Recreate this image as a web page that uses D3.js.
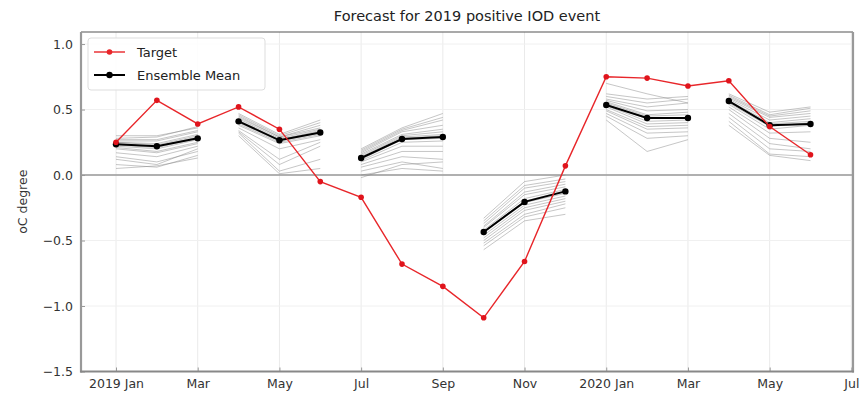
<!DOCTYPE html>
<html>
<head>
<meta charset="utf-8">
<script src="https://cdn.jsdelivr.net/npm/d3@7"></script>
<style>
  html, body { margin: 0; padding: 0; background: #fff; }
  svg { display: block; font-family: "DejaVu Sans", sans-serif; }
</style>
</head>
<body>
<svg id="chart" width="867" height="393"></svg>
<script>
// Months counted from January 2019 (0) to July 2020 (18)
const tickMonths = [0, 2, 4, 6, 8, 10, 12, 14, 16, 18];
const tickLabels = ["2019 Jan", "Mar", "May", "Jul", "Sep", "Nov", "2020 Jan", "Mar", "May", "Jul"];
const yTicks = [-1.5, -1.0, -0.5, 0.0, 0.5, 1.0];

// Observed IOD index, Jan 2019 .. Jun 2020
const targetMonths = [0, 1, 2, 3, 4, 5, 6, 7, 8, 9, 10, 11, 12, 13, 14, 15, 16, 17];
const targetValues = [0.25, 0.57, 0.39, 0.52, 0.35, -0.05, -0.17, -0.68, -0.85, -1.09, -0.66, 0.07,
                      0.75, 0.74, 0.68, 0.72, 0.37, 0.155];

// Start month of each 3-month forecast
const forecastStarts = [0, 3, 6, 9, 12, 15];

// Ensemble mean for each forecast (3 lead months)
const ensembleMean = [
  [0.235, 0.22, 0.28],
  [0.41, 0.265, 0.325],
  [0.13, 0.275, 0.29],
  [-0.435, -0.205, -0.125],
  [0.535, 0.435, 0.435],
  [0.565, 0.38, 0.39]
];

// Individual ensemble members for each forecast
const members = [
  [[0.30,0.30,0.36],[0.28,0.29,0.37],[0.27,0.27,0.34],[0.26,0.26,0.33],[0.25,0.24,0.31],[0.25,0.23,0.30],
   [0.24,0.22,0.29],[0.23,0.21,0.28],[0.22,0.20,0.27],[0.21,0.18,0.25],[0.20,0.17,0.24],[0.17,0.14,0.22],
   [0.14,0.10,0.18],[0.12,0.08,0.20],[0.08,0.06,0.15],[0.05,0.07,0.13]],
  [[0.47,0.31,0.42],[0.46,0.30,0.40],[0.45,0.29,0.38],[0.44,0.29,0.36],[0.43,0.28,0.35],[0.42,0.27,0.34],
   [0.41,0.27,0.33],[0.40,0.26,0.32],[0.39,0.25,0.31],[0.38,0.24,0.30],[0.36,0.20,0.27],[0.34,0.12,0.25],
   [0.33,0.08,0.22],[0.32,0.03,0.12],[0.30,0.01,0.05]],
  [[0.20,0.36,0.47],[0.19,0.35,0.44],[0.18,0.34,0.42],[0.17,0.33,0.38],[0.16,0.31,0.35],[0.15,0.30,0.33],
   [0.14,0.29,0.31],[0.13,0.28,0.30],[0.12,0.27,0.28],[0.11,0.25,0.26],[0.10,0.22,0.22],[0.08,0.18,0.18],
   [0.06,0.14,0.12],[0.03,0.10,0.05],[0.00,0.05,0.03],[-0.02,0.08,0.10]],
  [[-0.33,-0.05,0.00],[-0.35,-0.08,-0.03],[-0.37,-0.10,-0.05],[-0.39,-0.13,-0.07],[-0.40,-0.15,-0.09],
   [-0.42,-0.18,-0.11],[-0.43,-0.20,-0.12],[-0.44,-0.21,-0.14],[-0.46,-0.23,-0.16],[-0.48,-0.25,-0.18],
   [-0.50,-0.27,-0.20],[-0.52,-0.30,-0.22],[-0.54,-0.32,-0.25],[-0.57,-0.35,-0.30]],
  [[0.70,0.62,0.55],[0.62,0.58,0.60],[0.60,0.55,0.58],[0.58,0.52,0.55],[0.57,0.49,0.50],[0.56,0.46,0.48],
   [0.55,0.45,0.46],[0.54,0.43,0.44],[0.53,0.41,0.42],[0.52,0.39,0.40],[0.50,0.37,0.38],[0.49,0.35,0.36],
   [0.47,0.32,0.33],[0.45,0.28,0.30],[0.42,0.18,0.27]],
  [[0.62,0.48,0.52],[0.61,0.46,0.51],[0.60,0.45,0.49],[0.59,0.44,0.47],[0.58,0.42,0.45],[0.57,0.40,0.43],
   [0.56,0.39,0.41],[0.55,0.37,0.40],[0.54,0.35,0.38],[0.52,0.32,0.33],[0.50,0.28,0.25],[0.47,0.24,0.20],
   [0.44,0.20,0.18],[0.41,0.16,0.14],[0.38,0.15,0.11]]
];

const svg = d3.select("#chart");
const plotLeft = 81, plotRight = 853, plotTop = 32, plotBottom = 371.5;

const x = d3.scaleLinear().domain([-0.857, 18.04]).range([plotLeft, plotRight]);
const y = d3.scaleLinear().domain([-1.5, 1.092]).range([plotBottom, plotTop]);

// grid
const grid = svg.append("g");
grid.selectAll("line.gx").data(tickMonths).join("line")
  .attr("x1", d => x(d)).attr("x2", d => x(d)).attr("y1", plotTop).attr("y2", plotBottom)
  .attr("stroke", "#eaeaea").attr("stroke-width", 1);
grid.selectAll("line.gy").data(yTicks).join("line")
  .attr("x1", plotLeft).attr("x2", plotRight).attr("y1", d => y(d)).attr("y2", d => y(d))
  .attr("stroke", "#f0f0f0").attr("stroke-width", 1);

// zero line
svg.append("line")
  .attr("x1", plotLeft).attr("x2", plotRight).attr("y1", y(0)).attr("y2", y(0))
  .attr("stroke", "#999").attr("stroke-width", 1.5);

// ensemble members
const line = d3.line().x(d => x(d[0])).y(d => y(d[1]));
const memberG = svg.append("g");
forecastStarts.forEach((s, i) => {
  members[i].forEach(m => {
    memberG.append("path")
      .attr("d", line(m.map((v, k) => [s + k, v])))
      .attr("fill", "none").attr("stroke", "#808080")
      .attr("stroke-opacity", 0.45).attr("stroke-width", 1);
  });
});

// ensemble means
const meanG = svg.append("g");
forecastStarts.forEach((s, i) => {
  const pts = ensembleMean[i].map((v, k) => [s + k, v]);
  meanG.append("path").attr("d", line(pts))
    .attr("fill", "none").attr("stroke", "#000").attr("stroke-width", 2);
  meanG.append("g").selectAll("circle").data(pts).join("circle")
    .attr("cx", d => x(d[0])).attr("cy", d => y(d[1])).attr("r", 3.2).attr("fill", "#000");
});

// target
const tPts = targetMonths.map((m, i) => [m, targetValues[i]]);
svg.append("path").attr("d", line(tPts))
  .attr("fill", "none").attr("stroke", "#e8262a").attr("stroke-width", 1.4);
svg.append("g").selectAll("circle").data(tPts).join("circle")
  .attr("cx", d => x(d[0])).attr("cy", d => y(d[1])).attr("r", 2.8).attr("fill", "#e0141c");

// axes
const xAxis = d3.axisBottom(x).tickValues(tickMonths)
  .tickFormat((d, i) => tickLabels[i]).tickSizeInner(-4).tickSizeOuter(0).tickPadding(8);
const gx = svg.append("g").attr("transform", `translate(0,${plotBottom})`).call(xAxis);
gx.select(".domain").remove();
gx.selectAll("line").attr("stroke", "#999");
gx.selectAll("text").attr("font-size", 12.5).attr("fill", "#333").attr("font-family", "DejaVu Sans");

const yAxis = d3.axisLeft(y).tickValues(yTicks)
  .tickFormat(d => d3.format(".1f")(d).replace("-", "\u2212")).tickSizeInner(-4).tickSizeOuter(0).tickPadding(8);
const gy = svg.append("g").attr("transform", `translate(${plotLeft},0)`).call(yAxis);
gy.select(".domain").remove();
gy.selectAll("line").attr("stroke", "#999");
gy.selectAll("text").attr("font-size", 12.5).attr("fill", "#333").attr("font-family", "DejaVu Sans");

// frame
svg.append("line").attr("x1", plotLeft).attr("x2", plotRight).attr("y1", plotTop).attr("y2", plotTop)
  .attr("stroke", "#555").attr("stroke-width", 1.2);
svg.append("line").attr("x1", plotLeft).attr("x2", plotLeft).attr("y1", plotTop).attr("y2", plotBottom + 1)
  .attr("stroke", "#999").attr("stroke-width", 2.2);
svg.append("line").attr("x1", plotRight).attr("x2", plotRight).attr("y1", plotTop).attr("y2", plotBottom + 1)
  .attr("stroke", "#999").attr("stroke-width", 2.2);
svg.append("line").attr("x1", plotLeft - 1).attr("x2", plotRight + 1).attr("y1", plotBottom).attr("y2", plotBottom)
  .attr("stroke", "#888").attr("stroke-width", 2.2);

// title and axis label
svg.append("text").attr("x", (plotLeft + plotRight) / 2).attr("y", 21)
  .attr("text-anchor", "middle").attr("font-size", 14.5).attr("fill", "#222")
  .text("Forecast for 2019 positive IOD event");
svg.append("text").attr("transform", `translate(27,${(plotTop + plotBottom) / 2}) rotate(-90)`)
  .attr("text-anchor", "middle").attr("font-size", 12.5).attr("fill", "#333")
  .text("oC degree");

// legend
const lg = svg.append("g");
lg.append("rect").attr("x", 88).attr("y", 38).attr("width", 177).attr("height", 52).attr("rx", 3)
  .attr("fill", "#fff").attr("fill-opacity", 0.85).attr("stroke", "#ddd").attr("stroke-width", 1);
const legendItems = [
  { label: "Target", color: "#e8262a", width: 1.4, r: 2.8, yy: 52 },
  { label: "Ensemble Mean", color: "#000", width: 2, r: 3.2, yy: 75 }
];
legendItems.forEach(it => {
  lg.append("line").attr("x1", 94).attr("x2", 125).attr("y1", it.yy).attr("y2", it.yy)
    .attr("stroke", it.color).attr("stroke-width", it.width);
  lg.append("circle").attr("cx", 109.5).attr("cy", it.yy).attr("r", it.r).attr("fill", it.color);
  lg.append("text").attr("x", 137).attr("y", it.yy + 4.5).attr("font-size", 13).attr("fill", "#222")
    .text(it.label);
});
</script>
</body>
</html>
